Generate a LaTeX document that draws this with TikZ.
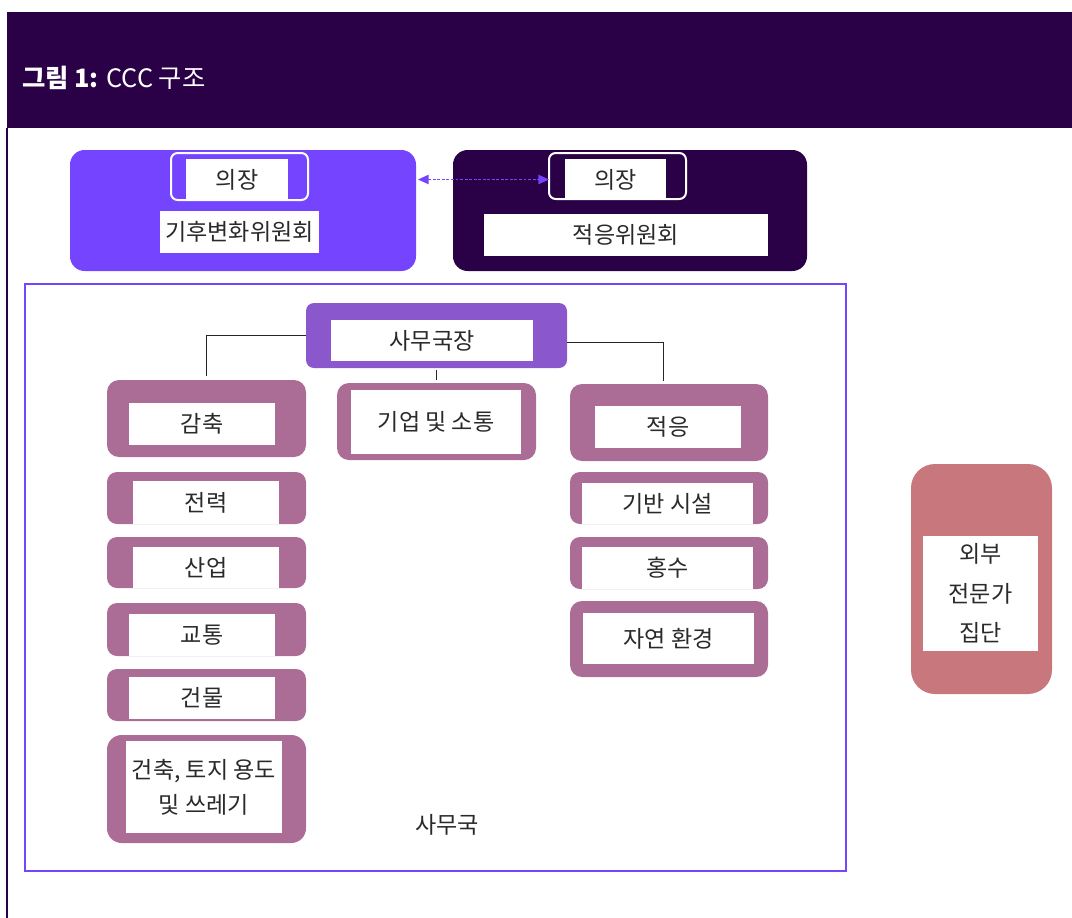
\documentclass[tikz,border=0pt]{standalone}
\usepackage{fontspec}
\setmainfont{Noto Sans CJK KR}
\usetikzlibrary{arrows.meta}
\definecolor{hdr}{HTML}{2A0046}
\definecolor{vio}{HTML}{7544FF}
\definecolor{head}{HTML}{8B57CC}
\definecolor{mauve}{HTML}{AB6C96}
\definecolor{ext}{HTML}{C8777C}
\definecolor{txt}{HTML}{2A2A2A}
\tikzset{
  px/.style={inner sep=0pt,outer sep=0pt},
  bigbox/.style={px,rounded corners=11pt},
  unit/.style={px,fill=mauve,rounded corners=7.5pt},
  wbox/.style={px,fill=white,text=txt,font=\fontsize{17.3}{20}\selectfont,align=center},
  chairo/.style={px,draw=white,line width=1.5pt,rounded corners=5pt},
  conn/.style={draw=black!85,line width=0.6pt},
  arr/.style={draw=vio,line width=1.1pt,dash pattern=on 2.2pt off 1.2pt,{Triangle[length=8pt,width=7pt]}-{Triangle[length=8pt,width=7pt]}}
}
\begin{document}
\begin{tikzpicture}[x=0.75pt,y=-0.75pt]
\useasboundingbox (0,0) rectangle (1072,918);
% header
\fill[hdr] (7,12) rectangle (1072,128);
\draw[hdr,line width=0.8pt] (7,128) -- (7,918);
\node[px,anchor=west,text=white,font=\fontsize{19}{22}\selectfont] (title) at (22,78) {\textbf{그림 1:} CCC 구조};
% committees
\node[bigbox,fill=vio,minimum width=346*0.75pt,minimum height=121*0.75pt] (ccc) at (243,210.5) {};
\node[chairo,minimum width=137*0.75pt,minimum height=47*0.75pt] (ch1o) at (239.5,176.5) {};
\node[wbox,minimum width=102*0.75pt,minimum height=41*0.75pt] (ch1) at (237,179.5) {의장};
\node[wbox,minimum width=159*0.75pt,minimum height=42*0.75pt] (cccn) at (239.5,232) {기후변화위원회};
\node[bigbox,fill=hdr,minimum width=354*0.75pt,minimum height=121*0.75pt] (asc) at (630,210.5) {};
\node[chairo,minimum width=137*0.75pt,minimum height=46*0.75pt] (ch2o) at (617.5,176) {};
\node[wbox,minimum width=101*0.75pt,minimum height=41*0.75pt] (ch2) at (615.5,179.5) {의장};
\node[wbox,minimum width=284*0.75pt,minimum height=42*0.75pt] (ascn) at (626,235) {적응위원회};
\draw[arr] (ccc.east |- ch2.west) ++(2,0) -- (ch2o.west |- ch2.west);
% secretariat frame
\node[px,draw=vio,line width=1.5pt,minimum width=821*0.75pt,minimum height=587*0.75pt] (sec) at (435.5,577.5) {};
\node[px,text=txt,font=\fontsize{17.3}{20}\selectfont] (seclab) at (447,825) {사무국};
% head
\node[px,fill=head,rounded corners=6pt,minimum width=261*0.75pt,minimum height=65*0.75pt] (hd) at (436.5,335.5) {};
\node[wbox,minimum width=202*0.75pt,minimum height=41*0.75pt] (hdn) at (432,340.5) {사무국장};
% left column
\node[unit,rounded corners=9pt,minimum width=199*0.75pt,minimum height=77*0.75pt] (mit) at (206.5,418.5) {};
\node[wbox,minimum width=146*0.75pt,minimum height=42*0.75pt] (mitn) at (202,424) {감축};
\node[unit,minimum width=199*0.75pt,minimum height=52*0.75pt] (pow) at (206.5,498) {};
\node[wbox,minimum width=146*0.75pt,minimum height=43*0.75pt] (pown) at (206,502.5) {전력};
\node[unit,minimum width=199*0.75pt,minimum height=51*0.75pt] (ind) at (206.5,562.5) {};
\node[wbox,minimum width=146*0.75pt,minimum height=41*0.75pt] (indn) at (206,567.5) {산업};
\node[unit,minimum width=199*0.75pt,minimum height=53*0.75pt] (tra) at (206.5,629.5) {};
\node[wbox,minimum width=146*0.75pt,minimum height=42*0.75pt] (tran) at (202,635) {교통};
\node[unit,minimum width=199*0.75pt,minimum height=52*0.75pt] (bld) at (206.5,695) {};
\node[wbox,minimum width=146*0.75pt,minimum height=42*0.75pt] (bldn) at (202,698) {건물};
\node[unit,rounded corners=11pt,minimum width=199*0.75pt,minimum height=108*0.75pt] (agr) at (206.5,789) {};
\node[wbox,font=\fontsize{17.3}{26}\selectfont,minimum width=156*0.75pt,minimum height=92*0.75pt] (agrn) at (204,787) {건축, 토지 용도\\및 쓰레기};
% middle
\node[unit,rounded corners=9pt,minimum width=199*0.75pt,minimum height=77*0.75pt] (biz) at (436.5,421.5) {};
\node[wbox,minimum width=170*0.75pt,minimum height=64*0.75pt] (bizn) at (436,422) {기업 및 소통};
% right column
\node[unit,rounded corners=9pt,minimum width=198*0.75pt,minimum height=77*0.75pt] (ada) at (669,422.5) {};
\node[wbox,minimum width=146*0.75pt,minimum height=42*0.75pt] (adan) at (668,427) {적응};
\node[unit,minimum width=198*0.75pt,minimum height=52*0.75pt] (inf) at (669,498) {};
\node[wbox,minimum width=171*0.75pt,minimum height=41*0.75pt] (infn) at (667.5,503.5) {기반 시설};
\node[unit,minimum width=198*0.75pt,minimum height=52*0.75pt] (fld) at (669,563) {};
\node[wbox,minimum width=171*0.75pt,minimum height=42*0.75pt] (fldn) at (667.5,568) {홍수};
\node[unit,rounded corners=9pt,minimum width=198*0.75pt,minimum height=76*0.75pt] (nat) at (669,639) {};
\node[wbox,minimum width=171*0.75pt,minimum height=51*0.75pt] (natn) at (668.5,638.5) {자연 환경};
% connectors
\draw[conn,shorten >=3pt] (hd.west) -| (mit.north);
\draw[conn,shorten >=2pt] (hd.east) ++(0,7) -| ([xshift=-4.5pt]ada.north);
\draw[conn,shorten <=1.5pt,shorten >=2.3pt] (hd.south) -- (biz.north);
% external
\node[px,fill=ext,rounded corners=18pt,minimum width=141*0.75pt,minimum height=230*0.75pt] (exp) at (981.5,579) {};
\node[wbox,font=\fontsize{17.3}{29.5}\selectfont,minimum width=115*0.75pt,minimum height=115*0.75pt] (expn) at (980.5,593.5) {외부\\전문가\\집단};
\end{tikzpicture}
\end{document}
